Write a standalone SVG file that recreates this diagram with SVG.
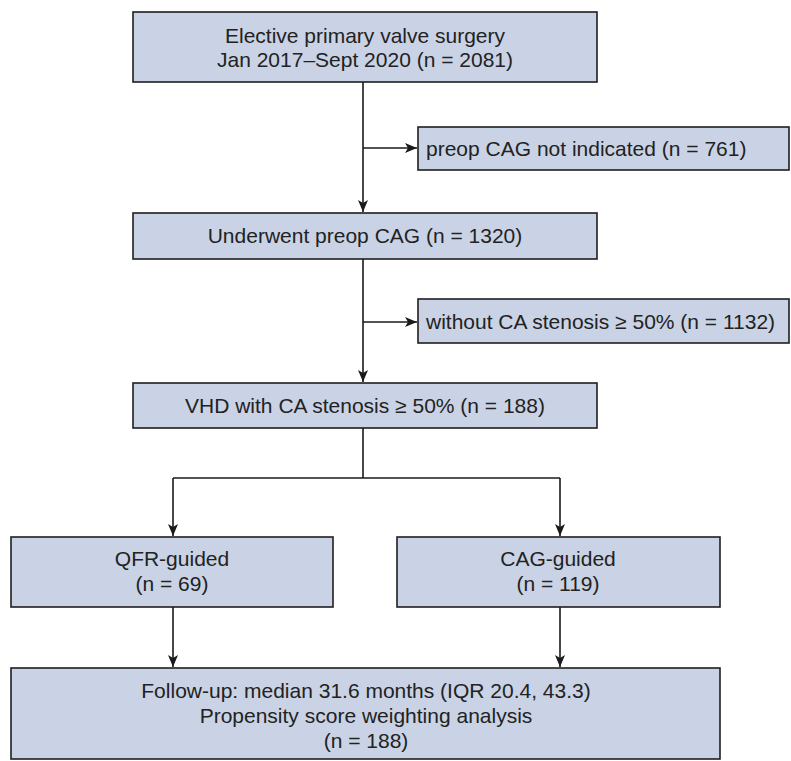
<svg xmlns="http://www.w3.org/2000/svg" width="791" height="761" viewBox="0 0 791 761">
<defs>
<marker id="ah" viewBox="0 0 12 10" refX="12" refY="5" markerWidth="12" markerHeight="10" markerUnits="userSpaceOnUse" orient="auto">
<path d="M0,0 L12,5 L0,10 L3,5 Z" fill="#1a1a1a"/>
</marker>
<style>
.box{fill:#c9d3e5;stroke:#1f1f1f;stroke-width:1.6}
.t{font-family:"Liberation Sans",Arial,sans-serif;font-size:21px;fill:#222}
.c{text-anchor:middle}
.ln{fill:none;stroke:#1a1a1a;stroke-width:1.6}
</style>
</defs>
<rect width="791" height="761" fill="#fff"/>
<g id="connectors">
<path class="ln" d="M363,82 V212" marker-end="url(#ah)"/>
<path class="ln" d="M363,148 H417" marker-end="url(#ah)"/>
<path class="ln" d="M363,259 V382" marker-end="url(#ah)"/>
<path class="ln" d="M363,322 H417" marker-end="url(#ah)"/>
<path class="ln" d="M363,428 V478"/>
<path class="ln" d="M173,478 H560"/>
<path class="ln" d="M173,478 V536" marker-end="url(#ah)"/>
<path class="ln" d="M560,478 V536" marker-end="url(#ah)"/>
<path class="ln" d="M173,607 V667" marker-end="url(#ah)"/>
<path class="ln" d="M560,607 V667" marker-end="url(#ah)"/>
</g>
<g id="n1">
<rect class="box" x="133" y="12" width="464" height="70"/>
<text class="t c" x="365" y="43">Elective primary valve surgery</text>
<text class="t c" x="365" y="67">Jan 2017–Sept 2020 (n = 2081)</text>
</g>
<g id="n2">
<rect class="box" x="418" y="127" width="371" height="43"/>
<text class="t" x="426" y="156">preop CAG not indicated (n = 761)</text>
</g>
<g id="n3">
<rect class="box" x="133" y="213" width="464" height="46"/>
<text class="t c" x="365" y="243">Underwent preop CAG (n = 1320)</text>
</g>
<g id="n4">
<rect class="box" x="418" y="299" width="371" height="44"/>
<text class="t" x="426" y="329">without CA stenosis ≥ 50% (n = 1132)</text>
</g>
<g id="n5">
<rect class="box" x="133" y="383" width="464" height="45"/>
<text class="t c" x="365" y="413">VHD with CA stenosis ≥ 50% (n = 188)</text>
</g>
<g id="n6">
<rect class="box" x="11" y="537" width="322" height="70"/>
<text class="t c" x="172" y="566">QFR-guided</text>
<text class="t c" x="172" y="591">(n = 69)</text>
</g>
<g id="n7">
<rect class="box" x="397" y="537" width="323" height="70"/>
<text class="t c" x="558" y="566">CAG-guided</text>
<text class="t c" x="558" y="591">(n = 119)</text>
</g>
<g id="n8">
<rect class="box" x="11" y="668" width="709" height="91"/>
<text class="t c" x="366" y="698">Follow-up: median 31.6 months (IQR 20.4, 43.3)</text>
<text class="t c" x="366" y="723">Propensity score weighting analysis</text>
<text class="t c" x="366" y="748">(n = 188)</text>
</g>
</svg>
